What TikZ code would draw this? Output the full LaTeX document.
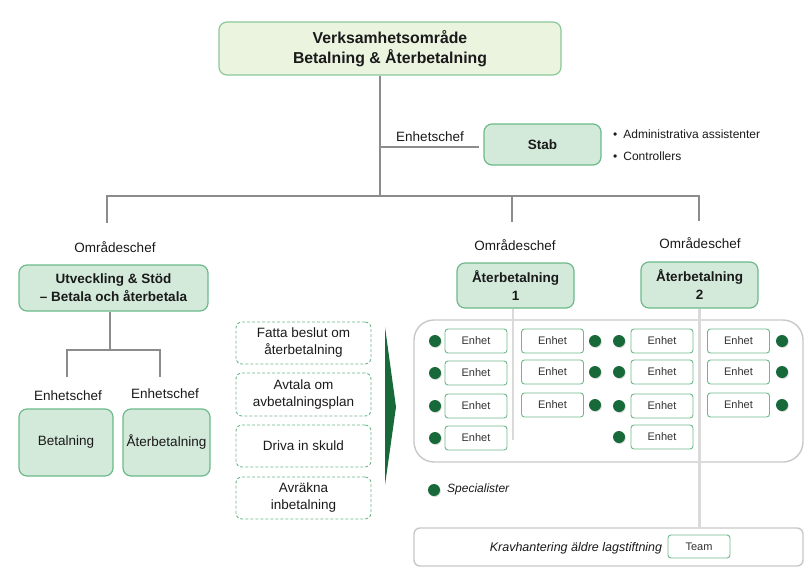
\documentclass[tikz,border=0pt]{standalone}
\usepackage{fontspec}
\setmainfont{Liberation Sans}
\usetikzlibrary{shadows}
\definecolor{topfill}{HTML}{EAF4DF}
\definecolor{topline}{HTML}{8CC79A}
\definecolor{gfill}{HTML}{D3EADB}
\definecolor{gline}{HTML}{6CB98A}
\definecolor{dkgreen}{HTML}{17693A}
\definecolor{conn}{HTML}{8C8C8C}
\definecolor{lconn}{HTML}{DADADA}
\definecolor{frame}{HTML}{C8C8C8}
\definecolor{txt}{HTML}{1A1A1A}
\begin{document}
\begin{tikzpicture}[x=1pt,y=-1pt,
  every node/.style={text=txt},
  topbox/.style={draw=topline, fill=topfill, line width=1.2pt, rounded corners=8pt, inner sep=0pt, align=center, font=\fontsize{15.8}{19.5}\selectfont\bfseries},
  gbox/.style={draw=gline, fill=gfill, line width=1.2pt, rounded corners=8pt, inner sep=0pt, align=center},
  gboxb/.style={gbox, font=\fontsize{13.5}{18}\selectfont\bfseries},
  gboxr/.style={gbox, font=\fontsize{13.5}{18}\selectfont},
  dbox/.style={draw=gline, dash pattern=on 3pt off 2pt, line width=0.9pt, rounded corners=6pt, inner sep=0pt, align=center, minimum width=135pt, font=\fontsize{13.5}{17}\selectfont},
  ebox/.style={draw=gline, fill=white, line width=0.9pt, rounded corners=3pt, inner sep=0pt, minimum width=62pt, minimum height=24pt, text=black!80, font=\fontsize{11}{13}\selectfont},
  lbl/.style={inner sep=0pt, font=\fontsize{13.5}{16}\selectfont},
  sml/.style={inner sep=0pt, font=\fontsize{12}{14}\selectfont},
  frm/.style={draw=frame, line width=1.4pt, fill=white},
  cn/.style={draw=conn, line width=2.6pt},
  lcn/.style={draw=lconn, line width=2.6pt},
  sdot/.style={circle, fill=dkgreen, inner sep=0pt, minimum size=12pt, drop shadow={shadow xshift=0.8pt, shadow yshift=-1pt, opacity=0.3}}
]
\useasboundingbox (0,0) rectangle (809,581);

% frames
\node[frm, rounded corners=20pt, minimum width=389pt, minimum height=142pt, inner sep=0pt] (big) at (608.5,391) {};
\node[frm, rounded corners=6pt, minimum width=389pt, minimum height=38pt, inner sep=0pt] (bot) at (608.5,547) {};

% nodes
\node[topbox, minimum width=342pt, minimum height=53pt] (top) at (390,48.5) {Verksamhetsområde\\Betalning \& Återbetalning};
\node[gboxb, minimum width=117pt, minimum height=41pt] (stab) at (542.5,144.5) {Stab};
\node[gboxb, minimum width=189pt, minimum height=46pt] (utv) at (113.5,288) {Utveckling \& Stöd\\– Betala och återbetala};
\node[gboxr, minimum width=94pt, minimum height=67pt] (bet) at (66,442.5) {Betalning};
\node[gboxr, minimum width=87pt, minimum height=67pt] (ater) at (166.5,442.5) {Återbetalning};
\node[gboxb, minimum width=117pt, minimum height=45pt] (ab1) at (515.5,285.5) {Återbetalning\\1};
\node[gboxb, minimum width=117pt, minimum height=46pt] (ab2) at (699.5,285) {Återbetalning\\2};

% labels
\node[lbl] (l0) at (430,137) {Enhetschef};
\node[lbl] (l1) at (115,247) {Områdeschef};
\node[lbl] (l2) at (515,245) {Områdeschef};
\node[lbl] (l3) at (700,243) {Områdeschef};
\node[lbl] (l4) at (68,396) {Enhetschef};
\node[lbl] (l5) at (165,394) {Enhetschef};
\node[sml, anchor=west] (b1) at (613,134) {•\hspace{6pt}Administrativa assistenter};
\node[sml, anchor=west] (b2) at (613,156) {•\hspace{6pt}Controllers};

% connectors
\coordinate (j0) at (380,196);
\coordinate (jl) at (107,196);
\coordinate (jr) at (699,196);
\coordinate (dl) at (107,222);
\coordinate (dm) at (512,222);
\coordinate (dr) at (699,220);
\coordinate (js) at (380,147);
\coordinate (ju) at (110,350);
\coordinate (ja) at (67,350);
\coordinate (jb) at (160,350);
\coordinate (da) at (67,377);
\coordinate (db) at (160,377);
\draw[cn] (top.south -| j0) -- (j0);
\draw[cn] (js) -- ([xshift=-4pt]js -| stab.west);
\draw[cn, line cap=rect] (dl) -- (jl) -- (jr) -- (dr);
\draw[cn] (dm |- jl) -- (dm);
\draw[cn] (utv.south -| ju) -- (ju);
\draw[cn] (da) -- (ja) -- (jb) -- (db);

% light connectors
\coordinate (v1) at (513,440);
\draw[lcn] (ab1.south -| v1) -- (v1);
\draw[lcn] (ab2.south) -- (ab2.south |- bot.north);

% dashed task boxes
\node[dbox, minimum height=42pt] (t1) at (303.5,343) {Fatta beslut om\\återbetalning};
\node[dbox, minimum height=43pt] (t2) at (303.5,394.5) {Avtala om\\avbetalningsplan};
\node[dbox, minimum height=42pt] (t3) at (303.5,446) {Driva in skuld};
\node[dbox, minimum height=42pt] (t4) at (303.5,498) {Avräkna\\inbetalning};

% arrow
\coordinate (ta) at (385,327);
\coordinate (tb) at (396,407);
\coordinate (tc) at (385,485);
\fill[dkgreen] (ta) -- (tb) -- (tc) -- cycle;

% Enhet boxes
\foreach \n/\y in {1/341,2/373,3/406,4/438} {
  \node[ebox] (a\n) at (476,\y) {Enhet};
  \node[sdot] (da\n) at (435,\y) {};
}
\foreach \n/\y in {1/341,2/372,3/405} {
  \node[ebox] (b\n) at (552.5,\y) {Enhet};
  \node[sdot] (db\n) at (595,\y) {};
}
\foreach \n/\y in {1/341,2/372,3/406,4/437} {
  \node[ebox] (c\n) at (662,\y) {Enhet};
  \node[sdot] (dc\n) at (619,\y) {};
}
\foreach \n/\y in {1/341,2/372,3/405} {
  \node[ebox] (e\n) at (738.5,\y) {Enhet};
  \node[sdot] (de\n) at (782,\y) {};
}

% legend
\node[sdot] (leg) at (434,490) {};
\node[sml, anchor=west, font=\fontsize{12}{14}\selectfont\itshape] (legt) at (447,489) {Specialister};

% bottom
\node[sml, font=\fontsize{12.5}{14}\selectfont\itshape] (kr) at (576,548) {Kravhantering äldre lagstiftning};
\node[ebox, minimum height=23pt] (team) at (699,546.5) {Team};
\end{tikzpicture}
\end{document}
